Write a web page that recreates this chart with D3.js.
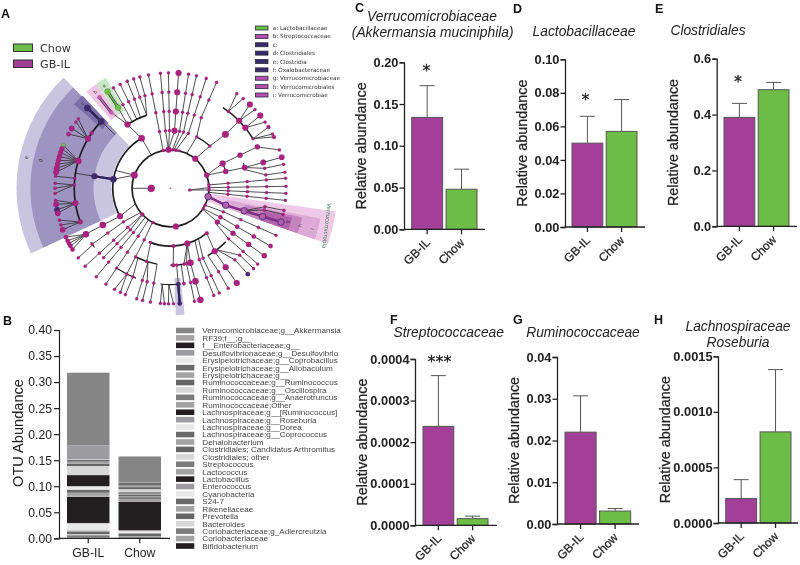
<!DOCTYPE html>
<html><head><meta charset="utf-8">
<script src="https://cdn.jsdelivr.net/npm/d3@7"></script>
<style>
html,body{margin:0;padding:0;background:#fff}
svg{display:block;filter:blur(0.35px)}
text{font-family:"Liberation Sans",Arial,sans-serif}
</style></head><body><svg id="c" width="800" height="565"></svg>
<script>
// ---------- data ----------
const groups = ["GB-IL","Chow"];
const groupColors = ["#a23f97","#6cbd45"];
const seriesNames = ["Verrucomicrobiaceae;g__Akkermansia","RF39;f__;g__","f__Enterobacteriaceae;g__","Desulfovibrionaceae;g__Desulfovibrio","Erysipelotrichaceae;g__Coprobacillus","Erysipelotrichaceae;g__Allobaculum","Erysipelotrichaceae;g__","Ruminococcaceae;g__Ruminococcus","Ruminococcaceae;g__Oscillospira","Ruminococcaceae;g__Anaerotruncus","Ruminococcaceae;Other","Lachnospiraceae;g__[Ruminococcus]","Lachnospiraceae;g__Roseburia","Lachnospiraceae;g__Dorea","Lachnospiraceae;g__Coprococcus","Dehalobacterium","Clostridiales; Candidatus Arthromitus","Clostridiales; other","Streptococcus","Lactococcus","Lactobacillus","Enterococcus","Cyanobacteria","S24-7","Rikenellaceae","Prevotella","Bacteroides","Coriobacteriaceae;g_Adlercreutzia","Coriobacteriaceae","Bifidobacterium"];
const seriesGrays = ["#858585","#a3a3a3","#231f20","#9b9ba0","#e8e8e8","#6a6a6a","#a3a3a3","#666666","#d8d8d8","#7c7c7c","#a3a3a3","#231f20","#9b9ba0","#e8e8e8","#6a6a6a","#a3a3a3","#666666","#d8d8d8","#7c7c7c","#a3a3a3","#231f20","#9b9ba0","#e8e8e8","#6a6a6a","#a3a3a3","#666666","#d8d8d8","#7c7c7c","#a3a3a3","#231f20"];
const gbilAbundance = [0.139,0.0005,0.0002,0.026,0.001,0.004,0.004,0.0045,0.0165,0.0005,0.0005,0.021,0.0008,0.006,0.006,0.006,0.0005,0.0005,0.0005,0.0005,0.05,0.001,0.0135,0.001,0.001,0.005,0.002,0.004,0.0015,0.0005];
const chowAbundance = [0.05,0.0002,0.0002,0.0002,0.0002,0.005,0.003,0.004,0.005,0.0002,0.001,0.0015,0.0002,0.0002,0.001,0.001,0.004,0.001,0.004,0.005,0.055,0.0002,0.005,0.0005,0.0005,0.005,0.0005,0.002,0.001,0.0005];
const otuTicks = ["0.00","0.05","0.10","0.15","0.20","0.25","0.30","0.35","0.40"];

const panelCMeans=[0.134,0.048], panelCErrs=[0.172,0.072], panelCTicks=["0.00","0.05","0.10","0.15","0.20"];
const panelDMeans=[0.05,0.057], panelDErrs=[0.066,0.076], panelDTicks=["0.00","0.02","0.04","0.06","0.08","0.10"];
const panelEMeans=[0.39,0.489], panelEErrs=[0.44,0.515], panelETicks=["0.0","0.2","0.4","0.6"];
const panelFMeans=[0.000238,0.000016], panelFErrs=[0.00036,0.000022], panelFTicks=["0.0000","0.0001","0.0002","0.0003","0.0004"];
const panelGMeans=[0.022,0.0031], panelGErrs=[0.0307,0.0037], panelGTicks=["0.00","0.01","0.02","0.03","0.04"];
const panelHMeans=[0.00022,0.00082], panelHErrs=[0.00039,0.00138], panelHTicks=["0.0000","0.0005","0.0010","0.0015"];

const cladeLegend = ["a: Lactobacillaceae","b: Streptococcaceae","c:","d: Clostridiales","e: Clostridia","f: Oxalobacteraceae","g: Verrucomicrobiaceae","h: Verrucomicrobiales","i: Verrucomicrobiae"];
const cladeLegendKinds = ["g","m","p","p","p","p","m","m","m"];

// clade: highlighted sectors [a0,a1,r0,r1,kind]; angle in degrees clockwise from 12 o'clock, radius in tree levels
const sectors = [
 [-115,-44,3.07,8.0,"e"],[-115,-44,4.0,7.28,"d"],[-49,-43.5,4.68,6.65,"c"],
 [-35.5,-30.3,4.68,6.65,"a"],[-41,-35.5,4.68,6.65,"b"],[173.6,177.6,4.68,6.6,"e"],
 [98,109.5,2,8.67,"v1"],[101.5,109.5,3,7.95,"v2"],[102.5,109.5,4,7,"v3"],[103.5,109.5,5,6.5,"v4"]];
// thick arcs [level,a0,a1,width]
const arcs = [[2,0,360,1.7],[3,-119,-30,1.7],[5,-110.5,-46,1.7],[4,-34,-18,1.7],[3,27,43,1.5],[5,33,59,1.5],[3,64.5,73,1.2],[4,71,76,1],
 [3,141,202,1.7],[4,190,206,1.5],[4,170,180,1.5],[5,174,186,1.2],[5,201,213,1.2],[4,134,151,1.5],[5,232,236,1]];
// spokes [angle,fromLevel,toLevel,nodeRadius,parentAngle,kind]
const spokes = [
 [-11,2,6,1.6,-11],[-5,2,6,1.6,-3],[-1,2,6,1.6,-3],[4,2,6,3,-3],[9,2,6,1.6,3],[13,2,6,1.6,5],[18,2,6,1.6,8],[23.5,3,6,1.6,27],[27,2,3,1.6,25],
 [43,2,3,1.6,40],[45.5,3,4,3.4,43],[45.5,4,5,3,45.5],[35,5,6,1.6,37],[39,5,6,1.6,37],[43.4,5,6,3,45.5],[47,5,6,1.6,45.5],[51,5,6,3,51],[55,5,6,1.6,51],[58,5,6,2,59],[62,5,6,1.6,59],[63.6,5,6,2,59],
 [64.5,2,3,3,70],[73,2,3,2.6,70],[64.5,3,5,2.6,64.5],[70.6,5,6,1.6,64.5],[74.4,3,6,2.8,73],[78,4,6,1.6,74.4],[82,4,6,1.6,76],[85,2,6,1.6,85],[89,1,6,1.6,95],[92.5,1,6,1.6,95],[96,2,6,1.6,96],
 [101,4,6,1.6,107],[103,4,6,1.6,107],
 [114,2,6,1.6,116],[120,2,6,2.2,122],[125.7,2,6,2.6,123],[131,3,6,1.6,128],[134,4,6,1.6,143],[138,4,6,1.6,143],[145,3,4,3,141],[145,4,6,3,145],[150,4,6,1.6,151],[155,3,6,1.6,151],[158,3,6,1.6,155],
 [165,3,6,3.2,163],[168,3,6,1.6,163],[172,4,5,1.8,172],[178,3,4,2,177],
 [175.4,5,6,2.2,175.4,"p"],[185,5,6,1.6,185],[183,5,6,1.6,185],[181,5,6,1.6,181],[178.5,5,6,1.6,181],[170,3,4,1.6,163],
 [198,3,4,1.6,200],[190,4,6,1.6,190],[194,4,6,1.6,197],[197,4,6,1.6,197],[203,4,6,1.6,205],[205.7,5,6,1.6,207],[207,2,5,1.6,208],[209,5,6,1.6,207],[214,2,6,1.6,215],[220,2,6,1.6,221],[224,2,5,1.6,227],[227.6,2,6,1.6,227],[234.5,2,5,1.6,231],[233,5,6,1.6,234],
 [241,2,3,2,246],[241.5,3,5,3.2,241],[238,5,6,2.2,241.5],[240,5,6,2.2,241.5],[241.5,5,6,2.2,241.5],[243,5,6,2.2,241.5],[245,5,6,2.2,241.5],
 [-81,3,4,3,-81,"p"],
 [-30,2,3,3.2,-30],[-34,3,4,3,-30],[-33,4,6,3,-34,"g"],[-38,4,6,2,-34,"m2"],
 [-29.6,4,6,1.6,-30],[-25.8,4,6,1.6,-26],[-22,4,6,1.6,-23],[-18.6,4,6,1.6,-18],[-15.4,4,6,1.6,-18],
 [-46,5,6,3.3,-46,"p"],
 [-53,5,6,1.6,-59],[-55,5,6,1.6,-59],[-58.8,5,6,2.8,-59],[-62,5,6,2.2,-59],
 [-68,5,6,2,-73.5,"g"],[-70,5,6,2.5,-73.5],[-72,5,6,2.5,-73.5],[-74,5,6,2.5,-73.5],[-76,5,6,2.5,-73.5],[-78,5,6,2.5,-73.5],[-80,5,6,2.8,-73.5],[-82,5,6,2.8,-73.5],[-84,5,6,1.6,-84],
 [-87.5,5,6,1.6,-88],[-90,5,6,1.6,-88],[-92.5,5,6,1.6,-88],
 [-96,5,6,1.6,-99],[-98,5,6,2.8,-99],[-100.7,5,6,2.8,-99,"p"],[-102.5,5,6,2.8,-99],
 [-106,5,6,1.6,-110.5],[-108.5,5,6,1.6,-110.5],[-111,5,6,2.8,-110.5]];
// extra nodes [angle,level,nodeRadius,kind]
const hubs = [[-90,1,3.6],[-70,2,3.4],[-11,2,1.6],[-3,2,3],[3,2,1.6],[8,2,1.6],[13,2,1.4],[40,2,3],[70,2,2.6],[85,2,1.6],[95,1,1.6],[116,2,1.6],[122,2,1.6],[141,3,2],[163,3,3],[177,3,2],[172,2,3],[200,3,1.6],[207,2,1.6],[227,2,2],[-119,3,3],[37,5,1.6],[51,5,3],[59,5,1.6],
 [-81,3,3.2,"p"],[-46,5,3.3,"p"],[175.4,5,2.2,"p"],[175.4,4,1.6],[-59,5,3],[-55,5,2],[-73.5,5,3.2],[-84,5,1.6],[-88,5,1.6],[-99,5,3],[-110.5,5,2.4],[138,6,2.2,"p"],
 [102.5,2,3.3,"m3"],[107,3,3.3,"m3"],[107,4,3.3,"m3"],[107,5,3.3,"m3"],[107,6,3.3,"m3"]];
// thin edges without nodes [a0,level0,a1,level1]
const plainEdges = [[-90,1,-90,2],[-70,2,-72,3],[-70,2,-81,3],[-81,4,-81,5],[175.4,4,175.4,5],[-46,4,-46,5]];
// highlighted chain [a0,level0,a1,level1,kind]
const chains = [[102.5,2,107,3,"m"],[107,3,107,6,"m"],[-81,3,-81,4,"p"],[-46,5,-46,6,"p"],[175.4,5,175.4,6,"p"],[-33,5,-33,6,"g"],[-38,5,-38,6,"m2"]];

// ---------- helpers ----------
const svg = d3.select("#c");
const rad = d => d*Math.PI/180;
const cladeFont = "DejaVu Sans, sans-serif";

// ---------- panel A ----------
(function(){
  const lv = d3.scaleLinear().domain([0,6]).range([0,115.5]);
  const g = svg.append("g").attr("transform","translate(170.5,188.3)");
  const secFill = {e:"#c9c4df",d:"#9d94c2",c:"#7a6fa8",a:"#c6e6c4",b:"#eec6e4",v1:"#eec9e8",v2:"#dda9d6",v3:"#c583bf",v4:"#b262ad"};
  const arc = d3.arc();
  g.selectAll("path.sec").data(sectors).join("path").attr("fill",d=>secFill[d[4]])
    .attr("d",d=>arc({startAngle:rad(d[0]),endAngle:rad(d[1]),innerRadius:lv(d[2]),outerRadius:lv(d[3])}));
  const kindFill = k => k==="g"?"#6cc04a":k==="p"?"#3a2b6d":k==="m2"?"#c15fb5":k==="m3"?"#b45cae":"#a9227f";
  const radial = d3.lineRadial().angle(d=>rad(d[0])).radius(d=>lv(d[1]));
  g.selectAll("path.sp").data(spokes).join("path").attr("fill","none")
    .attr("stroke","#3a3a3a").attr("stroke-width",0.9)
    .attr("d",d=>radial([[d[4],d[1]],[d[0],Math.min(d[1]+1,d[2])],[d[0],d[2]]]));
  g.selectAll("path.pl").data(plainEdges).join("path").attr("fill","none")
    .attr("stroke","#3a3a3a").attr("stroke-width",0.9)
    .attr("d",d=>radial([[d[0],d[1]],[d[2],d[3]]]));
  g.selectAll("path.arc").data(arcs).join("path").attr("fill","#1d1d1d")
    .attr("d",d=>arc({startAngle:rad(d[1]),endAngle:rad(d[2]),innerRadius:lv(d[0])-d[3]/2,outerRadius:lv(d[0])+d[3]/2}));
  const chainCol={m:"#7e2f83",p:"#2e2358",g:"#6cc04a",m2:"#c15fb5"};
  g.selectAll("path.chu").data(chains).join("path").attr("fill","none")
    .attr("stroke",d=>d[4]==="g"||d[4]==="m2"?"#333":chainCol[d[4]]).attr("stroke-width",d=>d[4]==="g"||d[4]==="m2"?2.8:2.2)
    .attr("d",d=>radial([[d[0],d[1]],[d[2],d[3]]]));
  g.selectAll("path.ch").data(chains).join("path").attr("fill","none")
    .attr("stroke",d=>chainCol[d[4]]).attr("stroke-width",d=>d[4]==="g"||d[4]==="m2"?1.6:2.2)
    .attr("d",d=>radial([[d[0],d[1]],[d[2],d[3]]]));
  const nodes=[];
  spokes.forEach(s=>{ for(let l=s[1]+1;l<=s[2];l++) nodes.push({a:s[0],l,r:s[3],k:s[5]}); });
  hubs.forEach(h=>nodes.push({a:h[0],l:h[1],r:h[2],k:h[3]}));
  g.selectAll("circle.n").data(nodes).join("circle")
    .attr("cx",d=>d3.pointRadial(rad(d.a),lv(d.l))[0]).attr("cy",d=>d3.pointRadial(rad(d.a),lv(d.l))[1])
    .attr("r",d=>d.r).attr("fill",d=>kindFill(d.k)).attr("stroke",d=>d.k==="m3"?"#3a2b6d":"#7d1d66").attr("stroke-width",d=>d.k==="m3"?0.8:0.2);
  g.append("circle").attr("r",0.8).attr("fill","#a9227f");
  const lab=(t,a,l,rot,size,fill)=>{const p=d3.pointRadial(rad(a),lv(l));
    g.append("text").attr("transform",`translate(${p[0]},${p[1]}) rotate(${rot})`).attr("text-anchor","middle").attr("dy","0.35em")
     .style("font-family",cladeFont).style("font-size",size+"px").attr("fill",fill||"#333").text(t);};
  lab("e",-78,7.65,-78,5); lab("d",-78,6.9,-78,5); lab("c",-46,6.35,-46,4.5); lab("a",-33,6.35,-33,4.5); lab("b",-38,6.35,-38,4.5);
  lab("g",106,6.3,-74,4.5); lab("h",106,7,-74,4.5); lab("i",106,7.65,-74,4.5);
  lab("Verrucomicrobia",103.5,8.35,97,5.6,"#3a7d50");
  const lg = svg.append("g");
  [["Chow","#6cc04a",44],["GB-IL","#a23f97",60]].forEach(d=>{
    lg.append("rect").attr("x",13.5).attr("y",d[2]).attr("width",19).attr("height",7.5).attr("fill",d[1]).attr("stroke","#333").attr("stroke-width",1);
    lg.append("text").attr("x",40).attr("y",d[2]+8).style("font-family",cladeFont).style("font-size","11.2px").attr("fill","#333").text(d[0]);
  });
  const rowY = d3.scalePoint().domain(cladeLegend).range([28,95]);
  const kf={g:"#6cc04a",m:"#b54fb0",p:"#3a2b6d"};
  cladeLegend.forEach((t,i)=>{
    lg.append("rect").attr("x",255.5).attr("y",rowY(t)-2).attr("width",12.5).attr("height",4).attr("fill",kf[cladeLegendKinds[i]]).attr("stroke","#2a2a3a").attr("stroke-width",0.8);
    lg.append("text").attr("x",272.7).attr("y",rowY(t)+2).style("font-family",cladeFont).style("font-size","5.7px").attr("fill","#333").text(t);
  });
})();

// ---------- panel B ----------
(function(){
  const g = svg.append("g");
  const y = d3.scaleLinear().domain([0,0.4]).range([538.3,330]);
  const x = d3.scaleBand().domain(groups).range([67,161]).paddingInner(0.175).paddingOuter(0);
  const rows = groups.map((gr,i)=>{const o={group:gr}; seriesNames.forEach((n,j)=>o[n]=(i===0?gbilAbundance:chowAbundance)[j]); return o;});
  const stack = d3.stack().keys(seriesNames.slice().reverse())(rows);
  const colorOf = d3.scaleOrdinal().domain(seriesNames).range(seriesGrays);
  stack.forEach(s=>{
    g.selectAll(null).data(s).join("rect").attr("x",d=>x(d.data.group)).attr("width",x.bandwidth())
      .attr("y",d=>y(d[1])).attr("height",d=>y(d[0])-y(d[1])).attr("fill",colorOf(s.key));
  });
  const ya = d3.axisLeft(y).tickValues(otuTicks.map(Number)).tickFormat((d,i)=>otuTicks[i]).tickSize(5).tickPadding(2);
  const ag = g.append("g").attr("transform","translate(59,0)").call(ya);
  ag.selectAll("text").style("font-size","12.2px").attr("fill","#222");
  ag.selectAll("line,path").attr("stroke","#222").attr("stroke-width",1.2);
  const xa = d3.axisBottom(x).tickSize(5).tickPadding(5);
  const bg = g.append("g").attr("transform","translate(0,538.3)").call(xa);
  bg.select("path").remove();
  bg.selectAll("line").attr("stroke","#222").attr("stroke-width",1.2);
  bg.selectAll("text").style("font-size","12.2px").attr("fill","#222");
  g.append("line").attr("x1",59).attr("x2",170).attr("y1",538.3).attr("y2",538.3).attr("stroke","#222").attr("stroke-width",1.3);
  g.append("text").attr("transform","translate(23,433) rotate(-90)").attr("text-anchor","middle").style("font-size","14.6px").attr("fill","#222").text("OTU  Abundance");
  const ly = d3.scalePoint().domain(seriesNames).range([330.5,546]);
  seriesNames.forEach(n=>{
    g.append("rect").attr("x",176).attr("y",ly(n)-2.8).attr("width",18.3).attr("height",5.6).attr("fill",colorOf(n));
    g.append("text").attr("x",202.3).attr("y",ly(n)+2.9).style("font-size","8.1px").attr("fill","#444").text(n);
  });
})();

// ---------- bar panels ----------
function barPanel(p){
  const g = svg.append("g");
  const y = d3.scaleLinear().domain([0,+p.ticks[p.ticks.length-1]]).range([p.y0,p.y1]);
  const x = d3.scaleBand().domain(groups).range([p.b0,p.b1]).paddingInner(0.1).paddingOuter(0);
  p.means.forEach((m,i)=>{
    const cx=x(groups[i])+x.bandwidth()/2;
    g.append("line").attr("x1",cx).attr("x2",cx).attr("y1",y(m)).attr("y2",y(p.errs[i])).attr("stroke","#555").attr("stroke-width",1);
    g.append("line").attr("x1",cx-7.5).attr("x2",cx+7.5).attr("y1",y(p.errs[i])).attr("y2",y(p.errs[i])).attr("stroke","#555").attr("stroke-width",1);
    g.append("rect").attr("x",x(groups[i])).attr("width",x.bandwidth()).attr("y",y(m)).attr("height",y(0)-y(m))
      .attr("fill",groupColors[i]).attr("stroke","#555").attr("stroke-width",1);
  });
  const ya=d3.axisLeft(y).tickValues(p.ticks.map(Number)).tickFormat((d,i)=>p.ticks[i]).tickSize(4.5).tickPadding(1);
  const ag=g.append("g").attr("transform",`translate(${p.ax},0)`).call(ya);
  ag.selectAll("text").style("font-size","12.8px").style("font-weight","bold").attr("fill","#222");
  ag.selectAll("line,path").attr("stroke","#222").attr("stroke-width",1.3);
  g.append("g").attr("transform",`translate(0,${p.y0})`).selectAll("line").data(groups).join("line")
    .attr("x1",d=>x(d)+x.bandwidth()/2).attr("x2",d=>x(d)+x.bandwidth()/2).attr("y1",0).attr("y2",5).attr("stroke","#222").attr("stroke-width",1.3);
  g.append("line").attr("x1",p.ax).attr("x2",p.xe).attr("y1",p.y0).attr("y2",p.y0).attr("stroke","#222").attr("stroke-width",1.3);
  groups.forEach(gr=>{
    const cx=x(gr)+x.bandwidth()/2-1.5;
    g.append("text").attr("transform",`translate(${cx},${p.y0+9}) rotate(-45)`).attr("text-anchor","end").attr("dy","0.6em")
      .style("font-size","12px").attr("fill","#222").attr("stroke","#222").attr("stroke-width",0.25).text(gr);
  });
  g.append("text").attr("transform",`translate(${p.tx},${(p.y0+p.y1)/2}) rotate(-90)`).attr("text-anchor","middle")
    .style("font-size","14.4px").attr("fill","#222").attr("stroke","#222").attr("stroke-width",0.25).text("Relative abundance");
  p.title.forEach(t=>g.append("text").attr("x",t[1]).attr("y",t[2]).attr("text-anchor","middle").style("font-size","13.8px").style("font-style","italic").attr("fill","#222").text(t[0]));
  if(p.star) g.append("text").attr("x",p.star[1]).attr("y",p.star[2]).attr("text-anchor","middle").style("font-size","16px").style("font-family","DejaVu Sans, sans-serif").attr("stroke","#222").attr("stroke-width",0.3).attr("fill","#222").text(p.star[0]);
}
barPanel({means:panelCMeans,errs:panelCErrs,ticks:panelCTicks,ax:404,xe:485,y0:229.3,y1:62.3,b0:411.7,b1:477,tx:366,
  title:[["Verrucomicrobiaceae",432,20.5],["(Akkermansia muciniphila)",432.7,37]],star:["*",426.5,76]});
barPanel({means:panelDMeans,errs:panelDErrs,ticks:panelDTicks,ax:565,xe:645,y0:227,y1:59.3,b0:572,b1:637,tx:527,
  title:[["Lactobacillaceae",584,36]],star:["*",585.5,105]});
barPanel({means:panelEMeans,errs:panelEErrs,ticks:panelETicks,ax:716.7,xe:797,y0:226.3,y1:58.7,b0:724,b1:789,tx:678,
  title:[["Clostridiales",708,35]],star:["*",738,87]});
barPanel({means:panelFMeans,errs:panelFErrs,ticks:panelFTicks,ax:415,xe:497,y0:525.3,y1:359,b0:423,b1:488,tx:367,
  title:[["Streptococcaceae",448.7,337]],star:["***",439.5,367]});
barPanel({means:panelGMeans,errs:panelGErrs,ticks:panelGTicks,ax:557,xe:639,y0:524,y1:357,b0:565,b1:630.7,tx:519,
  title:[["Ruminococcaceae",583,337]]});
barPanel({means:panelHMeans,errs:panelHErrs,ticks:panelHTicks,ax:718,xe:798,y0:523,y1:356.3,b0:725.7,b1:791,tx:670,
  title:[["Lachnospiraceae",738,331],["Roseburia",738,347]]});

[["A",1,18],["B",3,325],["C",355,12],["D",513,13],["E",655,13],["F",390,324],["G",513,324],["H",654,324]].forEach(d=>
  svg.append("text").attr("x",d[1]).attr("y",d[2]).style("font-size","12.5px").style("font-weight","bold").attr("fill","#111").text(d[0]));
</script></body></html>
